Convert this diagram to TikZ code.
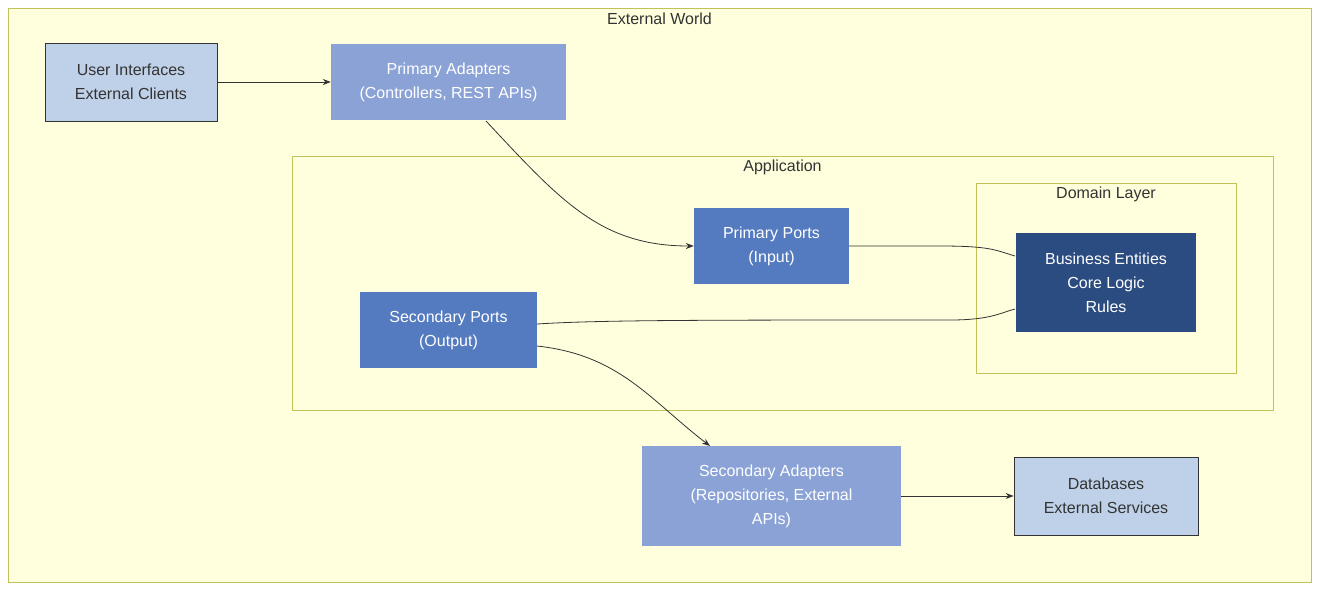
\documentclass[tikz,border=0pt]{standalone}
\usepackage{fontspec}
\setmainfont{Liberation Sans}
\usetikzlibrary{arrows.meta}
\definecolor{clfill}{HTML}{FFFFDE}
\definecolor{clline}{HTML}{C2C25A}
\definecolor{light}{HTML}{BFD1E8}
\definecolor{adapt}{HTML}{8AA2D6}
\definecolor{port}{HTML}{547BBF}
\definecolor{core}{HTML}{2B4C80}
\definecolor{txt}{HTML}{333333}
\tikzset{
  box/.style={draw=none,align=center,font=\fontsize{16}{24}\selectfont,text=white,inner sep=0pt},
  extbox/.style={box,fill=light,draw=txt,text=txt,line width=0.8pt},
  cluster/.style={draw=clline,line width=1pt},
  ctitle/.style={font=\fontsize{16}{20}\selectfont,text=txt,anchor=center},
  link/.style={draw=txt,line width=0.8pt},
  arr/.style={link,-{Stealth[length=8pt,width=6pt]}}
}
\begin{document}
\begin{tikzpicture}[x=1pt,y=-1pt]
\useasboundingbox (0,0) rectangle (1319,590);
\fill[white] (0,0) rectangle (1319,590);
\draw[cluster,fill=clfill] (8,8) rectangle (1311,582);
\node[ctitle] (tw) at (659.5,19) {External World};
\draw[cluster] (292,156) rectangle (1273,410);
\node[ctitle] (ta) at (782.5,167) {Application};
\draw[cluster] (976,183) rectangle (1236,373);
\node[ctitle] (td) at (1106,194) {Domain Layer};
\node[extbox,minimum width=172pt,minimum height=78pt] (ui) at (131,82) {User Interfaces\\External Clients};
\node[box,fill=adapt,minimum width=235pt,minimum height=76pt] (pa) at (448.5,82) {Primary Adapters\\(Controllers, REST APIs)};
\node[box,fill=port,minimum width=155pt,minimum height=76pt] (pp) at (771.5,246) {Primary Ports\\(Input)};
\node[box,fill=port,minimum width=177pt,minimum height=76pt] (sp) at (448.5,330) {Secondary Ports\\(Output)};
\node[box,fill=core,minimum width=180pt,minimum height=99pt] (be) at (1106,282.5) {Business Entities\\Core Logic\\Rules};
\node[box,fill=adapt,minimum width=259pt,minimum height=100pt] (sa) at (771.5,496) {Secondary Adapters\\(Repositories, External\\APIs)};
\node[extbox,minimum width=184pt,minimum height=78pt] (db) at (1106,496) {Databases\\External Services};
\draw[arr] (ui.east) -- (pa.west);
\draw[arr] (486,121) .. controls (560,200) and (600,246) .. (pp.west);
\draw[link] (pp.east) -- (940,246) .. controls (990,246) and (995,250) .. (1015,256);
\draw[link] (537,324) .. controls (600,320) and (700,320) .. (950,320) .. controls (990,320) and (1000,313) .. (1015,309);
\draw[arr] (537,346) .. controls (620,355) and (650,400) .. (710,446);
\draw[arr] (sa.east) -- (db.west);
\end{tikzpicture}
\end{document}
